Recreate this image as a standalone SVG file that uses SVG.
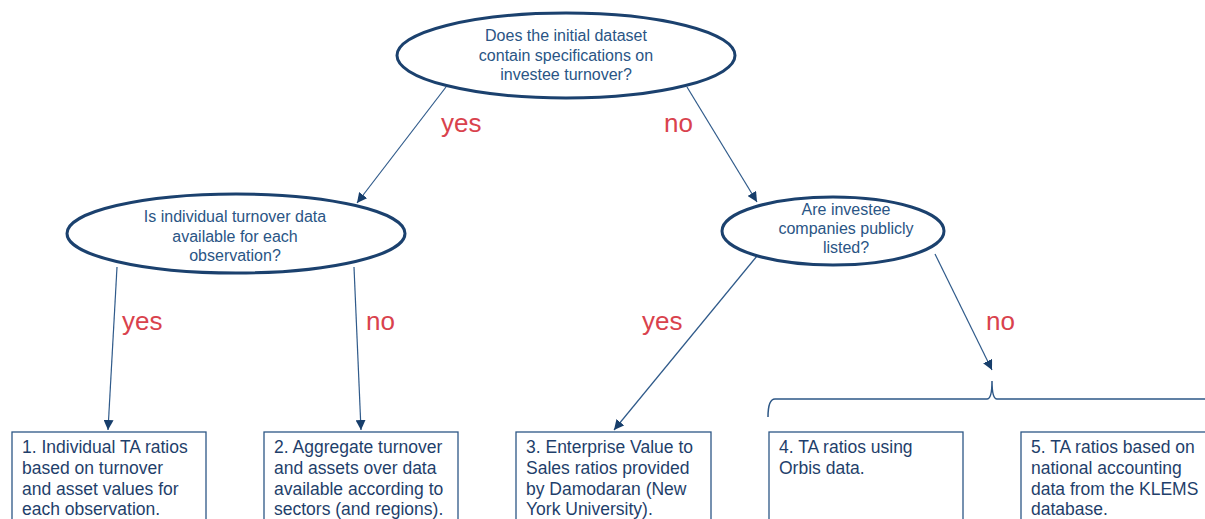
<svg xmlns="http://www.w3.org/2000/svg" width="1205" height="519" viewBox="0 0 1205 519">
<style>
.bg{fill:#ffffff}
.ell{fill:#ffffff;stroke:#1b416e;stroke-width:3}
.box{fill:#ffffff;stroke:#2d5786;stroke-width:1.3}
.et{font-family:"Liberation Sans",Arial,sans-serif;font-size:16px;fill:#2a5585;text-anchor:middle}
.bt{font-family:"Liberation Sans",Arial,sans-serif;font-size:17.5px;fill:#1f3f6b}
.lbl{font-family:"Liberation Sans",Arial,sans-serif;font-size:26px;fill:#d9424d}
.con{fill:none;stroke:#2f5a8a;stroke-width:1.2}
.brace{fill:none;stroke:#2d5786;stroke-width:1.5}
</style>
<defs>
<marker id="ah" viewBox="0 0 10 10" refX="10" refY="5" markerWidth="10" markerHeight="10" markerUnits="userSpaceOnUse" orient="auto">
<path d="M0,0 L10,5 L0,10 z" fill="#173e6b"/>
</marker>
</defs>
<rect class="bg" x="0" y="0" width="1205" height="519"/>

<g id="connectors">
<line class="con" x1="446" y1="87" x2="357" y2="203" marker-end="url(#ah)"/>
<line class="con" x1="687" y1="87" x2="757" y2="202" marker-end="url(#ah)"/>
<line class="con" x1="117" y1="267" x2="108" y2="430" marker-end="url(#ah)"/>
<line class="con" x1="354" y1="267" x2="361" y2="430" marker-end="url(#ah)"/>
<line class="con" x1="757" y1="256" x2="614" y2="430" marker-end="url(#ah)"/>
<line class="con" x1="935" y1="254" x2="992" y2="370" marker-end="url(#ah)"/>
<path class="brace" d="M768,417 Q768,399 775,399 L987,399 Q992,399 992,381 Q992,399 997,399 L1205,399"/>
<text class="lbl" x="441" y="132">yes</text>
<text class="lbl" x="664" y="132">no</text>
<text class="lbl" x="122" y="330">yes</text>
<text class="lbl" x="366" y="330">no</text>
<text class="lbl" x="642" y="330">yes</text>
<text class="lbl" x="986" y="330">no</text>
</g>

<g id="q1">
<ellipse class="ell" cx="566" cy="55.5" rx="169" ry="42.5"/>
<text class="et" x="566" y="41">Does the initial dataset</text>
<text class="et" x="566" y="61">contain specifications on</text>
<text class="et" x="566" y="80">investee turnover?</text>
</g>

<g id="q2">
<ellipse class="ell" cx="236" cy="233.5" rx="169" ry="39.5"/>
<text class="et" x="235" y="222">Is individual turnover data</text>
<text class="et" x="235" y="242">available for each</text>
<text class="et" x="235" y="261">observation?</text>
</g>

<g id="q3">
<ellipse class="ell" cx="833" cy="231" rx="111" ry="34"/>
<text class="et" x="846" y="215">Are investee</text>
<text class="et" x="846" y="234">companies publicly</text>
<text class="et" x="846" y="253">listed?</text>
</g>

<g id="r1">
<rect class="box" x="12" y="432" width="194" height="110"/>
<text class="bt" x="22" y="453">1. Individual TA ratios</text>
<text class="bt" x="22" y="474">based on turnover</text>
<text class="bt" x="22" y="495">and asset values for</text>
<text class="bt" x="22" y="515">each observation.</text>
</g>

<g id="r2">
<rect class="box" x="264" y="432" width="194" height="110"/>
<text class="bt" x="274" y="453">2. Aggregate turnover</text>
<text class="bt" x="274" y="474">and assets over data</text>
<text class="bt" x="274" y="495">available according to</text>
<text class="bt" x="274" y="515">sectors (and regions).</text>
</g>

<g id="r3">
<rect class="box" x="516" y="432" width="195" height="110"/>
<text class="bt" x="526" y="453">3. Enterprise Value to</text>
<text class="bt" x="526" y="474">Sales ratios provided</text>
<text class="bt" x="526" y="495">by Damodaran (New</text>
<text class="bt" x="526" y="515">York University).</text>
</g>

<g id="r4">
<rect class="box" x="769" y="432" width="194" height="110"/>
<text class="bt" x="779" y="453">4. TA ratios using</text>
<text class="bt" x="779" y="474">Orbis data.</text>
</g>

<g id="r5">
<rect class="box" x="1021" y="432" width="194" height="110"/>
<text class="bt" x="1031" y="453">5. TA ratios based on</text>
<text class="bt" x="1031" y="474">national accounting</text>
<text class="bt" x="1031" y="495">data from the KLEMS</text>
<text class="bt" x="1031" y="515">database.</text>
</g>
</svg>
